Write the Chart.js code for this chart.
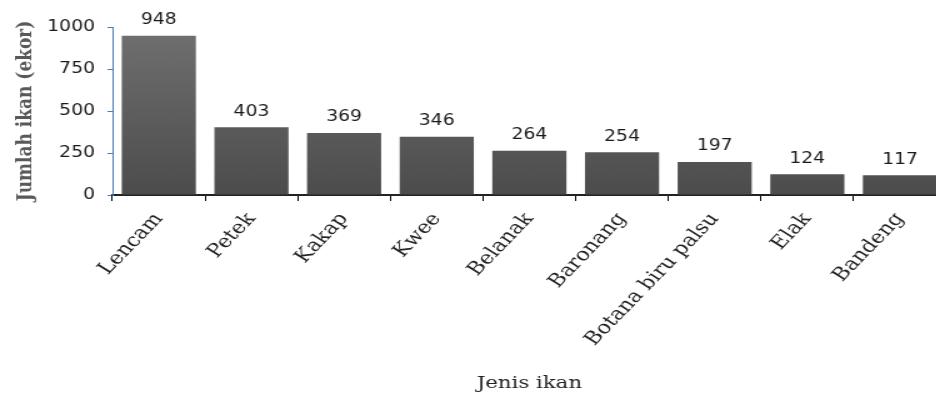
<!DOCTYPE html>
<html>
<head>
<meta charset="utf-8">
<script src="https://cdn.jsdelivr.net/npm/chart.js@4/dist/chart.umd.min.js"></script>
<style>
  html, body { margin: 0; padding: 0; background: #fff; overflow: hidden; }
  /* the source picture is stretched sideways, so the chart is drawn narrow and widened */
  #wrap { width: 762px; height: 394px; transform: scaleX(1.25); transform-origin: 0 0; }
</style>
</head>
<body>
<div id="wrap"><canvas id="fishChart" width="762" height="394"></canvas></div>
<script>
// Data
const categories = ['Lencam', 'Petek', 'Kakap', 'Kwee', 'Belanak', 'Baronang', 'Botana biru palsu', 'Elak', 'Bandeng'];
const counts = [948, 403, 369, 346, 264, 254, 197, 124, 117];
const yTicks = [0, 250, 500, 750, 1000];

const serif = "'DejaVu Serif', serif";
const sans = "'DejaVu Sans', Verdana, sans-serif";

// value labels above bars
const valueLabels = {
  id: 'valueLabels',
  afterDatasetsDraw(chart) {
    const ctx = chart.ctx;
    const meta = chart.getDatasetMeta(0);
    ctx.save();
    ctx.font = '15px ' + sans;
    ctx.fillStyle = '#1a1a1a';
    ctx.textAlign = 'center';
    ctx.textBaseline = 'bottom';
    meta.data.forEach((bar, i) => {
      ctx.fillText(String(counts[i]), bar.x, bar.y - 8);
    });
    ctx.restore();
  }
};

const ctx = document.getElementById('fishChart');

new Chart(ctx, {
  type: 'bar',
  data: {
    labels: categories,
    datasets: [{
      data: counts,
      backgroundColor: (c) => {
        const area = c.chart.chartArea;
        if (!area) return '#5c5c5c';
        const g = c.chart.ctx.createLinearGradient(0, area.top, 0, area.bottom);
        g.addColorStop(0, '#707070');
        g.addColorStop(1, '#4c4c4c');
        return g;
      },
      borderWidth: 0,
      categoryPercentage: 1.0,
      barPercentage: 0.8
    }]
  },
  options: {
    responsive: false,
    animation: false,
    layout: { padding: { top: 27, right: 5, left: 0, bottom: 0 } },
    plugins: {
      legend: { display: false },
      tooltip: { enabled: false }
    },
    scales: {
      x: {
        grid: { display: true, drawOnChartArea: false, tickLength: 6, color: '#000', offset: true },
        border: { color: '#222', width: 2 },
        ticks: {
          color: '#222',
          font: { family: serif, size: 18 },
          minRotation: 52,
          maxRotation: 52,
          padding: 8,
          autoSkip: false
        },
        title: {
          display: true,
          text: 'Jenis ikan',
          color: '#222',
          font: { family: serif, size: 17 },
          padding: { top: 0, bottom: 0 }
        },
        afterFit(scale) { scale.height = 199; }
      },
      y: {
        min: 0,
        max: 1000,
        afterBuildTicks(scale) { scale.ticks = yTicks.map(v => ({ value: v })); },
        grid: { display: true, drawOnChartArea: false, tickLength: 4, color: '#4a7ebb' },
        border: { color: '#4a7ebb', width: 1 },
        ticks: {
          color: '#1a1a1a',
          font: { family: sans, size: 15 },
          padding: 10,
          callback: (v) => String(v)
        },
        title: {
          display: true,
          text: 'Jumlah ikan (ekor)',
          color: '#595959',
          font: { family: serif, size: 17, weight: 'bold' },
          padding: { top: 10, bottom: 0 }
        },
        afterFit(scale) { scale.width = 90; }
      }
    }
  },
  plugins: [valueLabels]
});
</script>
</body>
</html>
